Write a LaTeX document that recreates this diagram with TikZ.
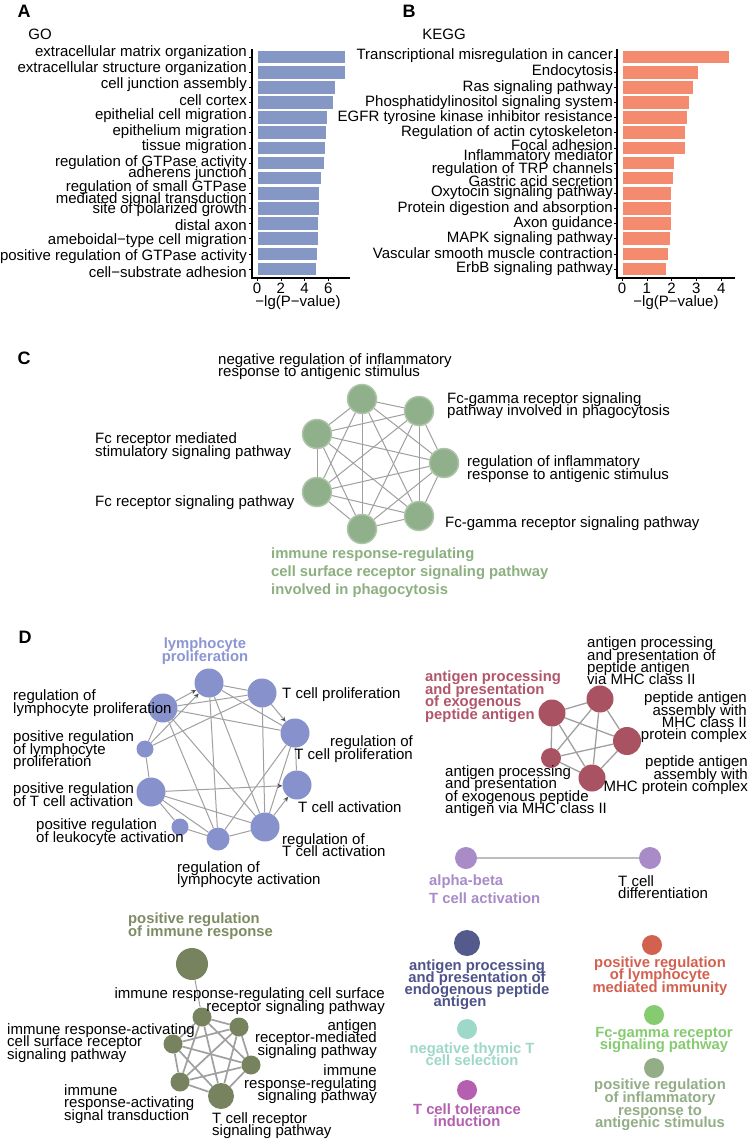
\documentclass[tikz,border=0pt]{standalone}
\usepackage{fontspec}
\setmainfont{Liberation Sans}
\usetikzlibrary{arrows.meta,backgrounds}
\lineskiplimit=-30pt
% colours
\definecolor{gobar}{HTML}{8497C5}
\definecolor{keggbar}{HTML}{F58B6E}
\definecolor{edgegray}{HTML}{A0A0A0}
\definecolor{arrowgray}{HTML}{505050}
\definecolor{fcfill}{HTML}{8FB08A}
\definecolor{fcrim}{HTML}{ADC4A8}
\definecolor{fctext}{HTML}{8CB080}
\definecolor{lymfill}{HTML}{8791CB}
\definecolor{lymtext}{HTML}{8C96D3}
\definecolor{apfill}{HTML}{A85262}
\definecolor{aptext}{HTML}{B1566B}
\definecolor{abfill}{HTML}{A98BC8}
\definecolor{irfill}{HTML}{76835E}
\definecolor{irtext}{HTML}{7E8C64}
\definecolor{endofill}{HTML}{555A8C}
\definecolor{endotext}{HTML}{4E5389}
\definecolor{thyfill}{HTML}{9ED8C8}
\definecolor{tolfill}{HTML}{B45FAF}
\definecolor{lmifill}{HTML}{D3614F}
\definecolor{fcgfill}{HTML}{86CB70}
\definecolor{inffill}{HTML}{93AD86}

\begin{document}
\begin{tikzpicture}[x=1pt,y=-1pt,
  lab/.style={inner sep=0pt,font=\fontsize{15}{12.4}\selectfont},
  blab/.style={inner sep=0pt,font=\fontsize{14.8}{12.6}\selectfont\bfseries},
  panel/.style={inner sep=0pt,font=\fontsize{18}{18}\selectfont\bfseries},
  goterm/.style={circle,inner sep=0pt,minimum size=#1},
  edge/.style={draw=edgegray,line width=1pt},
  arr/.style={draw=edgegray,line width=1pt,-{Stealth[length=5pt,width=4.5pt,color=arrowgray]}}
]
\useasboundingbox (0,0) rectangle (750,1142);
\begin{scope}[on background layer]
\fill[white] (0,0) rectangle (750,1142);
\end{scope}
%
%% A: GO bars
\node[panel] (panA) at (24,11) {A};
\node[lab] (goTitle) at (40,34) {GO};
\foreach \v [count=\i] in {7.39,7.39,6.55,6.39,5.88,5.85,5.71,5.63,5.38,5.24,5.21,5.18,5.15,5.07,5.01}{
  \filldraw[fill=gobar,draw=white,line width=0.8pt] (257,{41.9+15.13*\i-6.8}) rectangle ({257+11.9*\v},{41.9+15.13*\i+6.8});
  \draw (249,{41.9+15.13*\i}) -- (252,{41.9+15.13*\i});
}
\draw[line width=1.1pt] (252,49) -- (252,278) -- (350,278);
\foreach \t in {0,2,4,6}{
  \draw ({257+11.9*\t},278) -- ({257+11.9*\t},281);
  \node[lab] (goTick\t) at ({257+11.9*\t},288) {\t};
}
\node[lab] (goAxis) at (298,303) {−lg(P−value)};
\foreach \t/\y [count=\i] in {extracellular matrix organization/53, extracellular structure organization/68.6,
  cell junction assembly/84.3, cell cortex/99.9, epithelial cell migration/115.6, epithelium migration/131.2,
  tissue migration/146.9, regulation of GTPase activity/162.5, adherens junction/174,
  {regulation of small GTPase\\mediated signal transduction}/193.8, site of polarized growth/209.4,
  distal axon/225.1, ameboidal−type cell migration/240.7, positive regulation of GTPase activity/256.4,
  cell−substrate adhesion/272}
  \node[lab,anchor=east,align=right] (go\i) at (247,\y) {\t};
%
%% B: KEGG bars
\node[panel] (panB) at (409,11) {B};
\node[lab] (keggTitle) at (444,34) {KEGG};
\foreach \v [count=\i] in {4.35,3.10,2.86,2.70,2.62,2.54,2.54,2.10,2.06,1.98,1.98,1.98,1.94,1.86,1.81}{
  \filldraw[fill=keggbar,draw=white,line width=0.8pt] (622,{41.9+15.13*\i-6.8}) rectangle ({622+24.8*\v},{41.9+15.13*\i+6.8});
  \draw (614,{41.9+15.13*\i}) -- (617,{41.9+15.13*\i});
}
\draw[line width=1.1pt] (617,49) -- (617,278) -- (735,278);
\foreach \t in {0,...,4}{
  \draw ({622+24.8*\t},278) -- ({622+24.8*\t},281);
  \node[lab] (keggTick\t) at ({622+24.8*\t},288) {\t};
}
\node[lab] (keggAxis) at (676,303) {−lg(P−value)};
\foreach \t/\y [count=\i] in {Transcriptional misregulation in cancer/56, Endocytosis/72.1,
  Ras signaling pathway/87.3, Phosphatidylinositol signaling system/102.4,
  EGFR tyrosine kinase inhibitor resistance/117.5, Regulation of actin cytoskeleton/132.6,
  Focal adhesion/145, {Inflammatory mediator\\regulation of TRP channels}/163,
  Gastric acid secretion/181, Oxytocin signaling pathway/193.1, Protein digestion and absorption/208.2,
  Axon guidance/223.3, MAPK signaling pathway/238.4, Vascular smooth muscle contraction/253.6,
  ErbB signaling pathway/268.7}
  \node[lab,anchor=east,align=right] (kegg\i) at (613,\y) {\t};
%
%% C: Fc receptor cluster
\node[panel] (panC) at (24,358) {C};
\foreach \n/\x/\y in {1/362/399, 2/419/411, 3/444/463, 4/419/516, 5/362/529, 6/317/492, 7/317/434}
  \node[goterm=29pt,fill=fcfill,draw=fcrim,line width=1.5pt] (fc\n) at (\x,\y) {};
\begin{scope}[on background layer]
\foreach \i in {1,...,6}{
  \pgfmathtruncatemacro\nx{\i+1}
  \foreach \j in {\nx,...,7} \draw[edge] (fc\i) -- (fc\j);
}
\end{scope}
\node[lab,anchor=west,align=left] (fcNegLab) at (218,366.5) {negative regulation of inflammatory\\response to antigenic stimulus};
\node[lab,anchor=west,align=left] (fcPhagLab) at (447,405.5) {Fc-gamma receptor signaling\\pathway involved in phagocytosis};
\node[lab,anchor=west,align=left] (fcStimLab) at (95,446) {Fc receptor mediated\\stimulatory signaling pathway};
\node[lab,anchor=west,align=left] (fcInfLab) at (467,469) {regulation of inflammatory\\response to antigenic stimulus};
\node[lab,anchor=west] (fcRecLab) at (95,503) {Fc receptor signaling pathway};
\node[lab,anchor=west] (fcGamLab) at (445,524) {Fc-gamma receptor signaling pathway};
\node[blab,anchor=west,align=left,text=fctext,font=\fontsize{14.8}{18}\selectfont\bfseries] (fcMainLab) at (271,573)
  {immune response-regulating\\cell surface receptor signaling pathway\\involved in phagocytosis};
%
%% D: cluster networks
\node[panel] (panD) at (25,637) {D};
% lymphocyte cluster
\node[goterm=29pt,fill=lymfill] (lymProl) at (209,683) {};
\node[goterm=29pt,fill=lymfill] (tProl) at (262,693) {};
\node[goterm=29pt,fill=lymfill] (regLymProl) at (163,708) {};
\node[goterm=29pt,fill=lymfill] (regTProl) at (295,733) {};
\node[goterm=17pt,fill=lymfill] (posLymProl) at (145,749) {};
\node[goterm=29pt,fill=lymfill] (tAct) at (297,785) {};
\node[goterm=29pt,fill=lymfill] (posTAct) at (151,792) {};
\node[goterm=17pt,fill=lymfill] (posLeuAct) at (180,827) {};
\node[goterm=29pt,fill=lymfill] (regTAct) at (265,827) {};
\node[goterm=23pt,fill=lymfill] (regLymAct) at (218,839) {};
\begin{scope}[on background layer]
\foreach \a/\b in {lymProl/tProl, lymProl/regTProl, lymProl/regLymAct, lymProl/regTAct,
  tProl/regLymProl, tProl/posLymProl, tProl/regTAct, regLymProl/regTProl, regLymProl/posLymProl,
  regLymProl/regLymAct, regLymProl/regTAct, posLymProl/posTAct, posTAct/regTAct, posTAct/regLymAct,
  posTAct/posLeuAct, posLeuAct/regLymAct, regTAct/regTProl, regLymAct/regTProl, regTProl/tAct,
  regLymAct/regTAct}
  \draw[edge] (\a) -- (\b);
\foreach \a/\b in {regLymProl/lymProl, posLymProl/lymProl, tProl/regTProl, posTAct/tAct, regTAct/tAct}
  \draw[arr] (\a) -- (\b);
\end{scope}
\node[blab,align=center,text=lymtext] (lymProlLab) at (205,651) {lymphocyte\\proliferation};
\node[lab,anchor=west] (tProlLab) at (282,695) {T cell proliferation};
\node[lab,anchor=west,align=left] (regLymProlLab) at (13,703) {regulation of\\lymphocyte proliferation};
\node[lab,anchor=west,align=left] (posLymProlLab) at (13,750.5) {positive regulation\\of lymphocyte\\proliferation};
\node[lab,anchor=east,align=right] (regTProlLab) at (413,749) {regulation of\\T cell proliferation};
\node[lab,anchor=west] (tActLab) at (298,807) {T cell activation};
\node[lab,anchor=west,align=left] (posTActLab) at (13,794.5) {positive regulation\\of T cell activation};
\node[lab,anchor=west,align=left] (posLeuActLab) at (36,832) {positive regulation\\of leukocyte activation};
\node[lab,anchor=west,align=left] (regTActLab) at (282,845) {regulation of\\T cell activation};
\node[lab,anchor=west,align=left] (regLymActLab) at (177,874.5) {regulation of\\lymphocyte activation};
% antigen presentation cluster
\node[goterm=27pt,fill=apfill] (apExo) at (552,713) {};
\node[goterm=27pt,fill=apfill] (apMHCii) at (600,699) {};
\node[goterm=28pt,fill=apfill] (paMHCii) at (627,741) {};
\node[goterm=27pt,fill=apfill] (paMHC) at (592,778) {};
\node[goterm=20pt,fill=apfill] (apExoMHCii) at (551,758) {};
\begin{scope}[on background layer]
\foreach \a/\b in {apExo/apMHCii, apExo/paMHCii, apExo/paMHC, apExo/apExoMHCii, apMHCii/paMHCii,
  apMHCii/paMHC, apMHCii/apExoMHCii, paMHCii/paMHC, paMHCii/apExoMHCii, paMHC/apExoMHCii}
  \draw[edge,line width=1.3pt] (\a) -- (\b);
\end{scope}
\node[blab,anchor=west,align=left,text=aptext] (apExoLab) at (425,696.5) {antigen processing\\and presentation\\of exogenous\\peptide antigen};
\node[lab,anchor=west,align=left] (apMHCiiLab) at (587,661) {antigen processing\\and presentation of\\peptide antigen\\via MHC class II};
\node[lab,anchor=east,align=right] (paMHCiiLab) at (747,717.5) {peptide antigen\\assembly with\\MHC class II\\protein complex};
\node[lab,anchor=east,align=right] (paMHCLab) at (748,775.5) {peptide antigen\\assembly with\\MHC protein complex};
\node[lab,anchor=west,align=left] (apExoMHCiiLab) at (445,791) {antigen processing\\and presentation\\of exogenous peptide\\antigen via MHC class II};
% alpha-beta pair
\node[goterm=22pt,fill=abfill] (abAct) at (466,858) {};
\node[goterm=22pt,fill=abfill] (tDiff) at (650,858) {};
\begin{scope}[on background layer]
\draw[edge,draw=edgegray!70,line width=1.5pt] (abAct) -- (tDiff);
\end{scope}
\node[blab,anchor=west,align=left,text=abfill,font=\fontsize{14.8}{18}\selectfont\bfseries] (abActLab) at (429,889) {alpha-beta\\T cell activation};
\node[lab,anchor=west,align=left] (tDiffLab) at (618,887) {T cell\\differentiation};
% immune response cluster
\node[goterm=32pt,fill=irfill] (posImm) at (192,964) {};
\node[goterm=19pt,fill=irfill] (irrCell) at (202,1017) {};
\node[goterm=19pt,fill=irfill] (agRec) at (239,1027) {};
\node[goterm=19pt,fill=irfill] (iraCell) at (173,1044) {};
\node[goterm=19pt,fill=irfill] (irrSig) at (251,1065) {};
\node[goterm=19pt,fill=irfill] (iraSig) at (180,1082) {};
\node[goterm=26pt,fill=irfill] (tcrSig) at (221,1096) {};
\begin{scope}[on background layer]
\draw[edge] (posImm) -- (irrCell);
\foreach \a/\b in {irrCell/agRec, irrCell/iraCell, irrCell/irrSig, irrCell/iraSig, irrCell/tcrSig,
  agRec/iraCell, agRec/irrSig, agRec/iraSig, agRec/tcrSig, iraCell/irrSig, iraCell/iraSig,
  iraCell/tcrSig, irrSig/iraSig, irrSig/tcrSig, iraSig/tcrSig}
  \draw[edge,line width=1.7pt] (\a) -- (\b);
\end{scope}
\node[blab,anchor=west,align=left,text=irtext] (posImmLab) at (128,926) {positive regulation\\of immune response};
\node[lab,anchor=east,align=right] (irrCellLab) at (385,1001) {immune response-regulating cell surface\\receptor signaling pathway};
\node[lab,anchor=west,align=left] (iraCellLab) at (7,1043) {immune response-activating\\cell surface receptor\\signaling pathway};
\node[lab,anchor=east,align=right] (agRecLab) at (377,1039) {antigen\\receptor-mediated\\signaling pathway};
\node[lab,anchor=east,align=right] (irrSigLab) at (377,1084.5) {immune\\response-regulating\\signaling pathway};
\node[lab,anchor=west,align=left] (iraSigLab) at (64,1104) {immune\\response-activating\\signal transduction};
\node[lab,anchor=west,align=left] (tcrSigLab) at (212,1125.5) {T cell receptor\\signaling pathway};
% single terms
\node[goterm=26pt,fill=endofill] (endoAg) at (467,943) {};
\node[blab,align=center,text=endotext,font=\fontsize{14.8}{11.9}\selectfont\bfseries] (endoAgLab) at (477,984.5)
  {antigen processing\\and presentation of\\endogenous peptide\\\hspace*{-34pt}antigen};
\node[goterm=20pt,fill=thyfill] (thySel) at (467,1029) {};
\node[blab,align=center,text=thyfill] (thySelLab) at (472,1054) {negative thymic T\\cell selection};
\node[goterm=20pt,fill=tolfill] (tTol) at (467,1090) {};
\node[blab,align=center,text=tolfill] (tTolLab) at (467,1115) {T cell tolerance\\induction};
\node[goterm=20pt,fill=lmifill] (lymImm) at (652,945) {};
\node[blab,align=center,text=lmifill] (lymImmLab) at (660,976) {positive regulation\\of lymphocyte\\mediated immunity};
\node[goterm=20pt,fill=fcgfill] (fcgSig) at (654,1015) {};
\node[blab,align=center,text=fcgfill] (fcgSigLab) at (664,1040) {Fc-gamma receptor\\signaling pathway};
\node[goterm=20pt,fill=inffill] (infReg) at (654,1068) {};
\node[blab,align=center,text=inffill] (infRegLab) at (660,1105) {positive regulation\\of inflammatory\\response to\\antigenic stimulus};
\end{tikzpicture}
\end{document}
